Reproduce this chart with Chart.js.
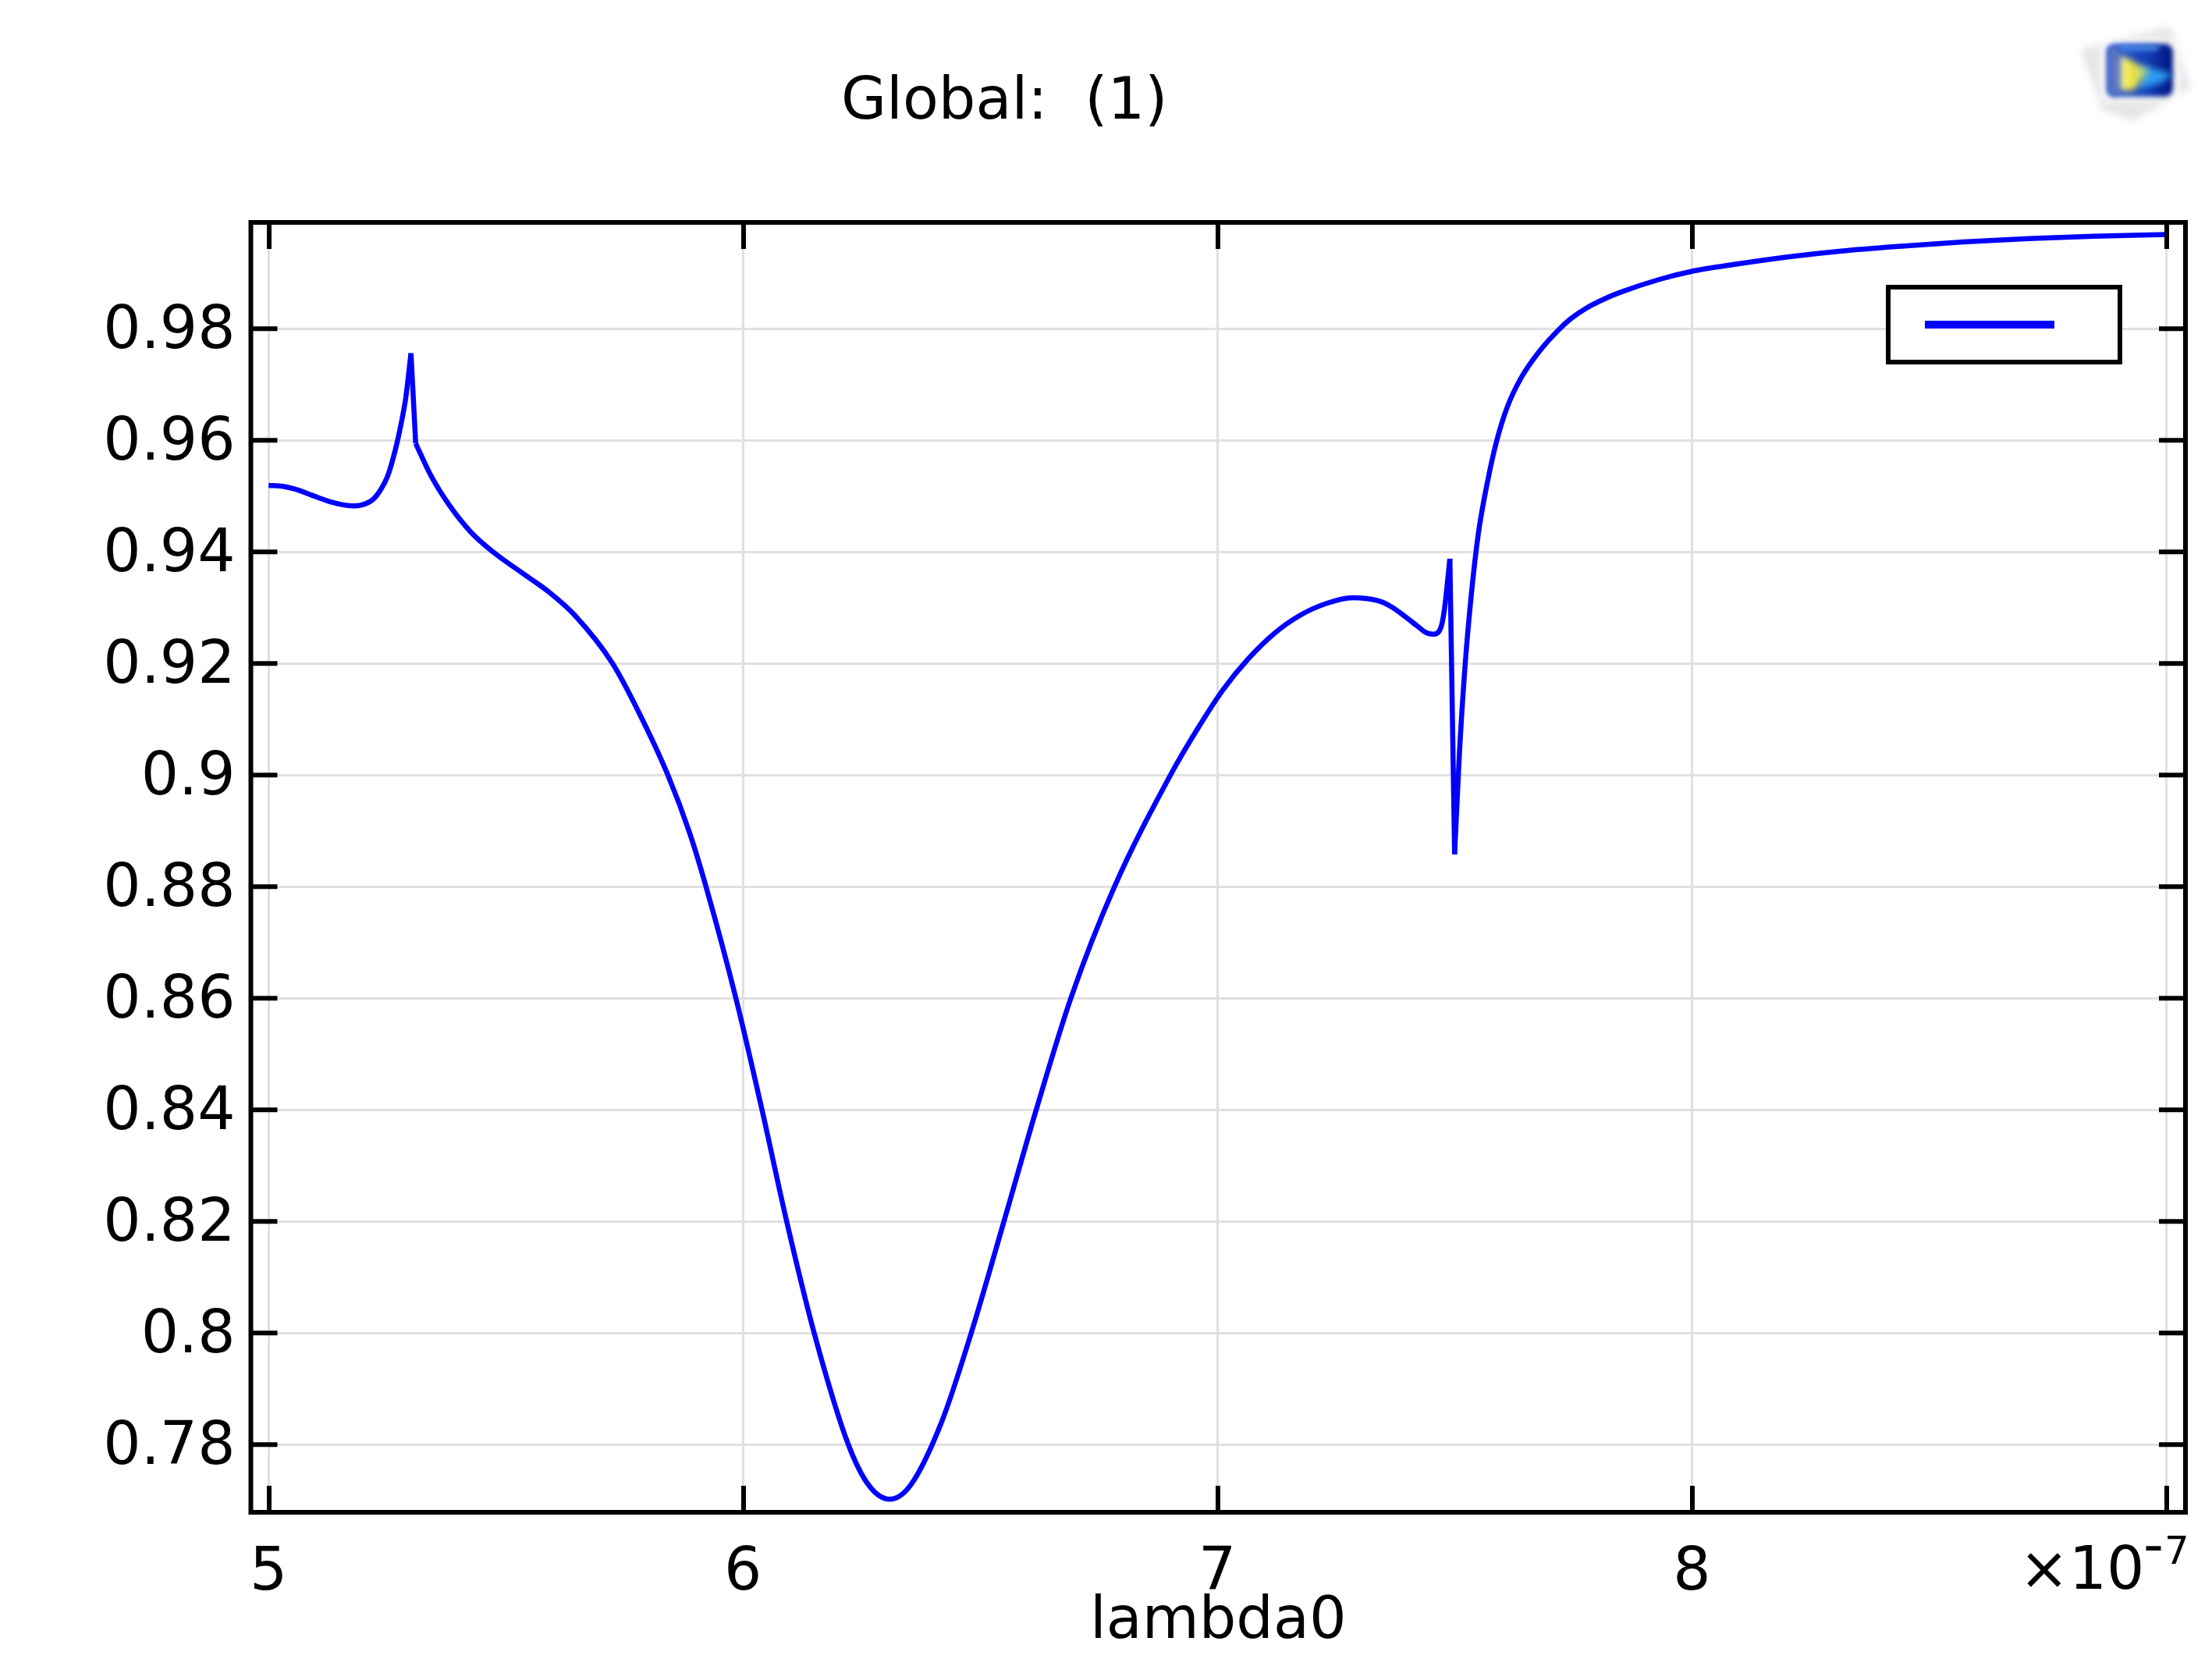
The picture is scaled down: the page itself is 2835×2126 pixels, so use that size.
<!DOCTYPE html>
<html>
<head>
<meta charset="utf-8">
<title>Global: (1)</title>
<script src="https://cdn.jsdelivr.net/npm/chart.js@4/dist/chart.umd.min.js"></script>
<style>html,body{margin:0;padding:0;background:#fff}canvas{display:block}</style>
</head>
<body>
<canvas id="c" width="2835" height="2126"></canvas>
<script>
const titleText = 'Global:  (1)';
const xAxisTitle = 'lambda0';
const xTicks = [5, 6, 7, 8, 9];
const xTickLabels = ['5', '6', '7', '8', ''];
const yTicks = [0.78, 0.80, 0.82, 0.84, 0.86, 0.88, 0.90, 0.92, 0.94, 0.96, 0.98];
const yTickLabels = ['0.78', '0.8', '0.82', '0.84', '0.86', '0.88', '0.9', '0.92', '0.94', '0.96', '0.98'];

// lambda0, in units of 1e-7
const lambda0 = [
  5.000, 5.030, 5.060, 5.090, 5.120, 5.150, 5.179, 5.196, 5.220, 5.237, 5.251, 5.267, 5.278, 5.289, 5.300,
  5.310, 5.341, 5.380, 5.426, 5.473, 5.536, 5.590, 5.645, 5.725, 5.782, 5.8416, 5.887, 5.922, 5.985,
  6.040, 6.092, 6.150, 6.222, 6.265, 6.309, 6.353, 6.418, 6.481,
  6.550, 6.618, 6.691, 6.783, 6.901, 6.956,
  7.011, 7.065, 7.120, 7.175, 7.230, 7.285, 7.339, 7.367, 7.394, 7.422, 7.441, 7.455, 7.470, 7.478, 7.490,
  7.500, 7.510, 7.520, 7.530, 7.549, 7.569, 7.589, 7.611, 7.641, 7.679, 7.718, 7.745, 7.778, 7.816, 7.849, 7.932, 7.998,
  8.096, 8.206, 8.315, 8.436, 8.573, 8.710, 8.846, 9.000
];
const response = [
  0.95193, 0.95175, 0.95113, 0.95020, 0.94925, 0.94855, 0.94825, 0.94840, 0.94941, 0.95127, 0.95361, 0.95827, 0.96246, 0.96759, 0.97560,
  0.95944, 0.95385, 0.94848, 0.94358, 0.94000, 0.93613, 0.93287, 0.92867, 0.92000, 0.91095, 0.90000, 0.88974, 0.88000, 0.86000,
  0.84000, 0.82000, 0.80000, 0.78000, 0.77272, 0.77021, 0.77272, 0.78392, 0.80000,
  0.82000, 0.84000, 0.86000, 0.88000, 0.90000, 0.90800,
  0.91520, 0.92084, 0.92540, 0.92867, 0.93077, 0.93179, 0.93123, 0.93015, 0.92853, 0.92666, 0.92550, 0.92526, 0.92620, 0.92937, 0.93878,
  0.88578, 0.90372, 0.91724, 0.92774, 0.94266, 0.95245, 0.96000, 0.96596, 0.97133, 0.97600, 0.97970, 0.98180, 0.98372, 0.98536, 0.98652, 0.98885, 0.99025,
  0.99161, 0.99291, 0.99393, 0.99477, 0.99557, 0.99617, 0.99657, 0.99690
];
// the two places where the curve jumps straight between neighbouring samples
const jumpStarts = [5.300, 7.490];

const FONT = '"DejaVu Sans"';
const BLUE = '#0000ff';
const allPoints = lambda0.map((x, i) => ({ x, y: response[i] }));

function lineSet(data, smooth) {
  return {
    data,
    borderColor: BLUE,
    borderWidth: 6.5,
    borderJoinStyle: 'bevel',
    borderCapStyle: 'butt',
    tension: 0,
    cubicInterpolationMode: smooth ? 'monotone' : 'default',
    pointRadius: 0,
    fill: false
  };
}
const datasets = [];
let from = 0;
jumpStarts.forEach(j => {
  const at = lambda0.indexOf(j);
  datasets.push(lineSet(allPoints.slice(from, at + 1), true));
  datasets.push(lineSet(allPoints.slice(at, at + 2), false));
  from = at + 1;
});
datasets.push(lineSet(allPoints.slice(from), true));

function drawIcon(ctx) {
  ctx.save();
  ctx.filter = 'blur(5px)';
  ctx.fillStyle = '#e6e6e6';
  ctx.beginPath();
  ctx.moveTo(2667, 63); ctx.lineTo(2782, 33); ctx.lineTo(2808, 113); ctx.lineTo(2733, 155); ctx.lineTo(2693, 140);
  ctx.closePath(); ctx.fill();
  ctx.filter = 'blur(6px)';
  ctx.fillStyle = '#ffffff';
  ctx.fillRect(2694, 52, 98, 76);
  ctx.filter = 'blur(3px)';
  const g = ctx.createLinearGradient(2700, 0, 2785, 0);
  g.addColorStop(0, '#2f5fd0'); g.addColorStop(0.6, '#1440b8'); g.addColorStop(1, '#00127c');
  ctx.fillStyle = g;
  ctx.beginPath(); ctx.roundRect(2700, 56, 85, 68, 10); ctx.fill();
  ctx.fillStyle = '#4a86e8';
  ctx.fillRect(2716, 58, 50, 7);
  ctx.fillStyle = '#5a72c4';
  ctx.fillRect(2702, 60, 13, 62);
  ctx.filter = 'blur(4px)';
  ctx.fillStyle = '#2f9cf0';
  ctx.beginPath(); ctx.moveTo(2745, 84); ctx.lineTo(2785, 95); ctx.lineTo(2770, 106); ctx.lineTo(2742, 114); ctx.closePath(); ctx.fill();
  const y = ctx.createLinearGradient(2717, 0, 2755, 0);
  y.addColorStop(0, '#f5f5b0'); y.addColorStop(0.35, '#f8e438'); y.addColorStop(1, '#8fd0a0');
  ctx.fillStyle = y;
  ctx.beginPath(); ctx.moveTo(2717, 70); ctx.lineTo(2755, 90); ctx.lineTo(2735, 116); ctx.lineTo(2717, 116); ctx.closePath(); ctx.fill();
  ctx.restore();
}

const decorations = {
  id: 'decorations',
  afterDatasetsDraw(chart) {
    const { ctx, chartArea: a, scales } = chart;
    ctx.save();
    // inward ticks on all four sides
    ctx.strokeStyle = '#000'; ctx.lineWidth = 6; ctx.lineCap = 'butt';
    const TL = 34;
    ctx.beginPath();
    xTicks.forEach(v => {
      const p = scales.x.getPixelForValue(v) + 0.7;
      ctx.moveTo(p, a.top); ctx.lineTo(p, a.top + TL);
      ctx.moveTo(p, a.bottom); ctx.lineTo(p, a.bottom - TL);
    });
    yTicks.forEach(v => {
      const p = scales.y.getPixelForValue(v);
      ctx.moveTo(a.left, p); ctx.lineTo(a.left + TL, p);
      ctx.moveTo(a.right, p); ctx.lineTo(a.right - TL, p);
    });
    ctx.stroke();
    // frame
    ctx.strokeRect(a.left, a.top, a.right - a.left, a.bottom - a.top);
    // legend
    ctx.fillStyle = '#fff';
    ctx.fillRect(2420, 368, 297, 96);
    ctx.strokeRect(2420, 368, 297, 96);
    ctx.strokeStyle = BLUE; ctx.lineWidth = 10;
    ctx.beginPath(); ctx.moveTo(2467, 416); ctx.lineTo(2633, 416); ctx.stroke();
    // title
    ctx.fillStyle = '#000'; ctx.textAlign = 'left'; ctx.textBaseline = 'alphabetic';
    ctx.font = '75px ' + FONT;
    ctx.fillText(titleText, 1078, 152);
    // axis multiplier
    ctx.font = '76px ' + FONT;
    ctx.fillText('×10', 2588, 2036);
    ctx.font = '72px ' + FONT;
    ctx.fillText('-', 2747, 2004);
    ctx.font = '50px ' + FONT;
    ctx.fillText('7', 2774, 2004);
    drawIcon(ctx);
    ctx.restore();
  }
};

new Chart(document.getElementById('c'), {
  type: 'line',
  data: { datasets },
  options: {
    responsive: false,
    animation: false,
    parsing: false,
    normalized: true,
    layout: { padding: { top: 285, right: 34, left: 0, bottom: 0 } },
    plugins: { legend: { display: false }, title: { display: false }, tooltip: { enabled: false } },
    scales: {
      x: {
        type: 'linear',
        min: 4.9625,
        max: 9.04062,
        afterBuildTicks(s) { s.ticks = xTicks.map(value => ({ value })); },
        afterFit(s) { s.height = 188; },
        border: { display: false },
        grid: { color: '#e0e0e0', lineWidth: 3, drawTicks: false },
        ticks: {
          autoSkip: false, maxRotation: 0, padding: 34, color: '#000',
          font: { family: FONT, size: 76 },
          callback: (v) => xTickLabels[xTicks.indexOf(v)]
        },
        title: {
          display: true, text: xAxisTitle, color: '#000',
          font: { family: FONT, size: 75, lineHeight: 1.2 },
          padding: { top: 0, bottom: 1 }
        }
      },
      y: {
        type: 'linear',
        min: 0.76787,
        max: 0.99906,
        afterBuildTicks(s) { s.ticks = yTicks.map(value => ({ value })); },
        afterFit(s) { s.width = 321.5; },
        border: { display: false },
        grid: { color: '#e0e0e0', lineWidth: 3, drawTicks: false },
        ticks: {
          autoSkip: false, padding: 20, color: '#000', labelOffset: 5,
          font: { family: FONT, size: 76 },
          callback: (v) => yTickLabels[yTicks.indexOf(v)]
        }
      }
    }
  },
  plugins: [decorations]
});
</script>
</body>
</html>
